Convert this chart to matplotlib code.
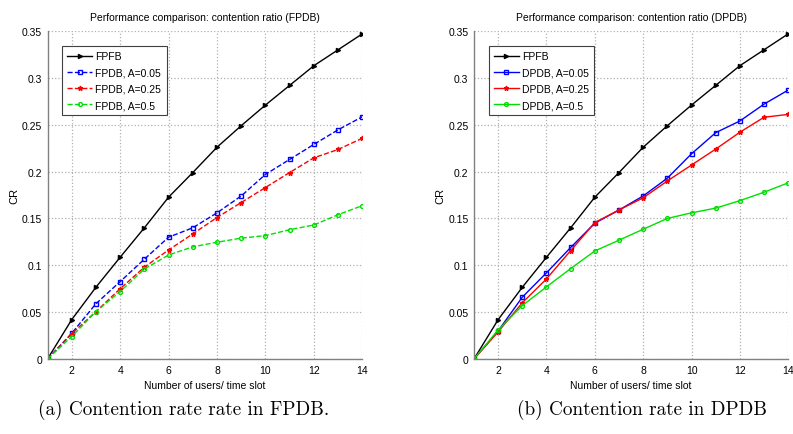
import numpy as np
import matplotlib
matplotlib.use("Agg")
import matplotlib.pyplot as plt

# --- data ---
users = [1, 2, 3, 4, 5, 6, 7, 8, 9, 10, 11, 12, 13, 14]

fpfb = [0, 0.042, 0.0766, 0.1086, 0.140, 0.1727, 0.199, 0.226, 0.249, 0.271, 0.292, 0.313, 0.330, 0.347]

fpdb_005 = [0, 0.0274, 0.059, 0.0826, 0.1065, 0.130, 0.140, 0.156, 0.174, 0.197, 0.213, 0.229, 0.2446, 0.2585]
fpdb_025 = [0, 0.027, 0.0506, 0.075, 0.098, 0.1164, 0.1335, 0.151, 0.167, 0.183, 0.199, 0.2147, 0.2236, 0.2356]
fpdb_05 = [0, 0.024, 0.0506, 0.072, 0.096, 0.111, 0.1197, 0.1246, 0.129, 0.1317, 0.138, 0.143, 0.154, 0.1637]

dpdb_005 = [0, 0.030, 0.066, 0.092, 0.119, 0.145, 0.159, 0.174, 0.193, 0.219, 0.2415, 0.254, 0.272, 0.287]
dpdb_025 = [0, 0.029, 0.060, 0.0855, 0.1157, 0.1456, 0.159, 0.172, 0.190, 0.207, 0.224, 0.242, 0.258, 0.261]
dpdb_05 = [0, 0.031, 0.057, 0.077, 0.0965, 0.1153, 0.1268, 0.1385, 0.150, 0.156, 0.161, 0.169, 0.178, 0.188]

x_ticks = [2, 4, 6, 8, 10, 12, 14]
y_ticks = [0, 0.05, 0.1, 0.15, 0.2, 0.25, 0.3, 0.35]
y_labels = ["0", "0.05", "0.1", "0.15", "0.2", "0.25", "0.3", "0.35"]

plt.rcParams['font.family'] = ['Liberation Sans', 'DejaVu Sans']

fig = plt.figure(figsize=(7.93, 4.35), dpi=100)
ax1 = fig.add_axes([0.0599, 0.1724, 0.397, 0.754])
ax2 = fig.add_axes([0.5977, 0.1724, 0.3963, 0.754])


def style_axis(ax, title):
    ax.set_xlim(1, 14)
    ax.set_ylim(0, 0.35)
    ax.set_xticks(x_ticks)
    ax.set_yticks(y_ticks)
    ax.set_yticklabels(y_labels)
    ax.grid(True, color='#b0b0b0', linestyle=':', linewidth=0.9)
    ax.set_axisbelow(True)
    for s in ['top', 'right']:
        ax.spines[s].set_visible(False)
    for s in ['left', 'bottom']:
        ax.spines[s].set_color('#808080')
        ax.spines[s].set_linewidth(1.0)
    ax.tick_params(length=0, labelsize=7.5, pad=4)
    ax.set_title(title, fontsize=7.5, pad=8)
    ax.set_xlabel("Number of users/ time slot", fontsize=7.5, labelpad=4)
    ax.set_ylabel("CR", fontsize=8, labelpad=2)


# (a) FPDB, dashed
ax1.plot(users, fpfb, color='black', marker='>', markersize=3, linewidth=1, label='FPFB')
ax1.plot(users, fpdb_005, color='blue', linestyle='--', marker='s', markersize=3.5,
         markerfacecolor='none', linewidth=1, label='FPDB, A=0.05')
ax1.plot(users, fpdb_025, color='red', linestyle='--', marker='*', markersize=3.5,
         linewidth=1, label='FPDB, A=0.25')
ax1.plot(users, fpdb_05, color='#00e000', linestyle='--', marker='o', markersize=2.8,
         markerfacecolor='none', linewidth=1, label='FPDB, A=0.5')
style_axis(ax1, "Performance comparison: contention ratio (FPDB)")

# (b) DPDB, solid
ax2.plot(users, fpfb, color='black', marker='>', markersize=3, linewidth=1, label='FPFB')
ax2.plot(users, dpdb_005, color='blue', marker='s', markersize=3.5,
         markerfacecolor='none', linewidth=1, label='DPDB, A=0.05')
ax2.plot(users, dpdb_025, color='red', marker='*', markersize=3.5,
         linewidth=1, label='DPDB, A=0.25')
ax2.plot(users, dpdb_05, color='#00e000', marker='o', markersize=2.8,
         markerfacecolor='none', linewidth=1, label='DPDB, A=0.5')
style_axis(ax2, "Performance comparison: contention ratio (DPDB)")

for ax in (ax1, ax2):
    leg = ax.legend(loc='upper left', bbox_to_anchor=(0.03, 0.97), fontsize=7.5,
                    fancybox=False, framealpha=1, edgecolor='#404040',
                    handlelength=2.4, handletextpad=0.3, borderpad=0.5,
                    labelspacing=0.6)
    leg.get_frame().set_linewidth(0.8)

# captions
fig.text(0.232, 0.057, "(a) Contention rate rate in FPDB.", ha='center', va='center',
         fontsize=13.8, family='cmr10')
fig.text(0.81, 0.057, "(b) Contention rate in DPDB", ha='center', va='center',
         fontsize=13.8, family='cmr10')

fig.savefig("out.png", dpi=100)
